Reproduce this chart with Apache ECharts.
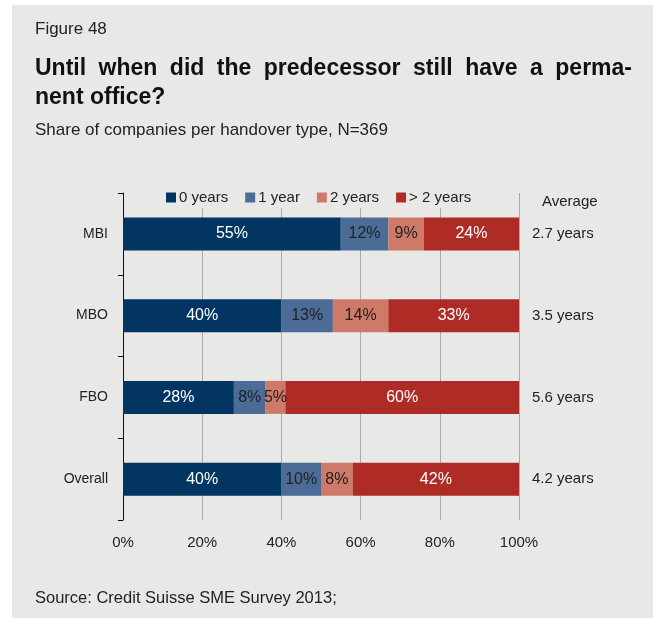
<!DOCTYPE html>
<html>
<head>
<meta charset="utf-8">
<script src="https://cdn.jsdelivr.net/npm/echarts@6/dist/echarts.min.js"></script>
<style>
html,body{margin:0;padding:0;background:#ffffff;}
#chart{width:653px;height:618px;}
</style>
</head>
<body>
<div id="chart"></div>
<script>
const categories = ['MBI', 'MBO', 'FBO', 'Overall'];
const seriesNames = ['0 years', '1 year', '2 years', '> 2 years'];
const years0 = [55, 40, 28, 40];
const years1 = [12, 13, 8, 10];
const years2 = [9, 14, 5, 8];
const yearsMore = [24, 33, 60, 42];
const averages = ['2.7 years', '3.5 years', '5.6 years', '4.2 years'];
const xTicks = [0, 20, 40, 60, 80, 100];

const FONT = '"Liberation Sans", Arial, sans-serif';
const colors = ['#033562', '#4a6c97', '#cf7a68', '#ae2b26'];
const labelColors = ['#ffffff', '#222222', '#222222', '#ffffff'];
const values = [years0, years1, years2, yearsMore];
const BG = '#e8e9e6';

// justified first title line
const titleLine1 = 'Until when did the predecessor still have a perma-';
const titleLine2 = 'nent office?';
const titleFont = 'bold 23px ' + FONT;
const titleLeft = 35, titleRight = 632;
const ctx = document.createElement('canvas').getContext('2d');
ctx.font = titleFont;
const words = titleLine1.split(' ');
const widths = words.map(w => ctx.measureText(w).width);
const total = widths.reduce((a, b) => a + b, 0);
const gap = (titleRight - titleLeft - total) / (words.length - 1);
const titleGraphics = [];
let cx = titleLeft;
words.forEach((w, i) => {
  titleGraphics.push({type: 'text', x: cx, y: 57, style: {text: w, font: titleFont, fill: '#111', verticalAlign: 'top'}});
  cx += widths[i] + gap;
});
titleGraphics.push({type: 'text', x: titleLeft, y: 86, style: {text: titleLine2, font: titleFont, fill: '#111', verticalAlign: 'top'}});

const chart = echarts.init(document.getElementById('chart'), null, {renderer: 'canvas'});

const series = seriesNames.map((name, i) => ({
  name: name,
  type: 'bar',
  stack: 'total',
  barWidth: 33,
  data: values[i],
  itemStyle: {color: colors[i]},
  label: {
    show: true,
    position: 'inside',
    formatter: '{c}%',
    color: labelColors[i],
    fontFamily: FONT,
    fontSize: 16
  }
}));

chart.setOption({
  backgroundColor: '#ffffff',
  animation: false,
  graphic: [
    {type: 'rect', z: -10, shape: {x: 12, y: 5, width: 641, height: 613}, style: {fill: BG}},
    {type: 'text', left: 35, top: 21, style: {text: 'Figure 48', font: '17px ' + FONT, fill: '#222'}},
    ...titleGraphics,
    {type: 'text', left: 35, top: 122, style: {text: 'Share of companies per handover type, N=369', font: '17px ' + FONT, fill: '#222'}},
    {type: 'text', left: 35, top: 590, style: {text: 'Source: Credit Suisse SME Survey 2013;', font: '16.5px ' + FONT, fill: '#222'}},
    {type: 'text', left: 542, top: 194, style: {text: 'Average', font: '15px ' + FONT, fill: '#222'}}
  ],
  legend: {
    left: 158,
    top: 187,
    padding: [3, 8, 3, 8],
    backgroundColor: BG,
    itemWidth: 10,
    itemHeight: 10,
    itemGap: 17,
    icon: 'rect',
    textStyle: {fontFamily: FONT, fontSize: 15, color: '#222', padding: [0, 0, 0, -2]},
    data: seriesNames
  },
  grid: {left: 123, right: 134, top: 193, bottom: 98, containLabel: false},
  xAxis: {
    type: 'value',
    min: 0,
    max: 100,
    interval: 20,
    axisLine: {show: false},
    axisTick: {show: false},
    splitLine: {show: true, lineStyle: {color: '#aaaaaa', width: 1}},
    axisLabel: {
      formatter: v => xTicks.includes(v) ? v + '%' : '',
      fontFamily: FONT, fontSize: 15, color: '#222', margin: 15
    }
  },
  yAxis: [
    {
      type: 'category',
      data: categories,
      inverse: true,
      axisLine: {show: true, lineStyle: {color: '#111', width: 1}},
      axisTick: {show: true, length: 5, lineStyle: {color: '#111'}},
      axisLabel: {fontFamily: FONT, fontSize: 14, color: '#222', margin: 15},
      splitLine: {show: false}
    },
    {
      type: 'category',
      data: averages,
      inverse: true,
      position: 'right',
      axisLine: {show: false},
      axisTick: {show: false},
      axisLabel: {fontFamily: FONT, fontSize: 15, color: '#222', margin: 13},
      splitLine: {show: false}
    }
  ],
  series: series
});
</script>
</body>
</html>
